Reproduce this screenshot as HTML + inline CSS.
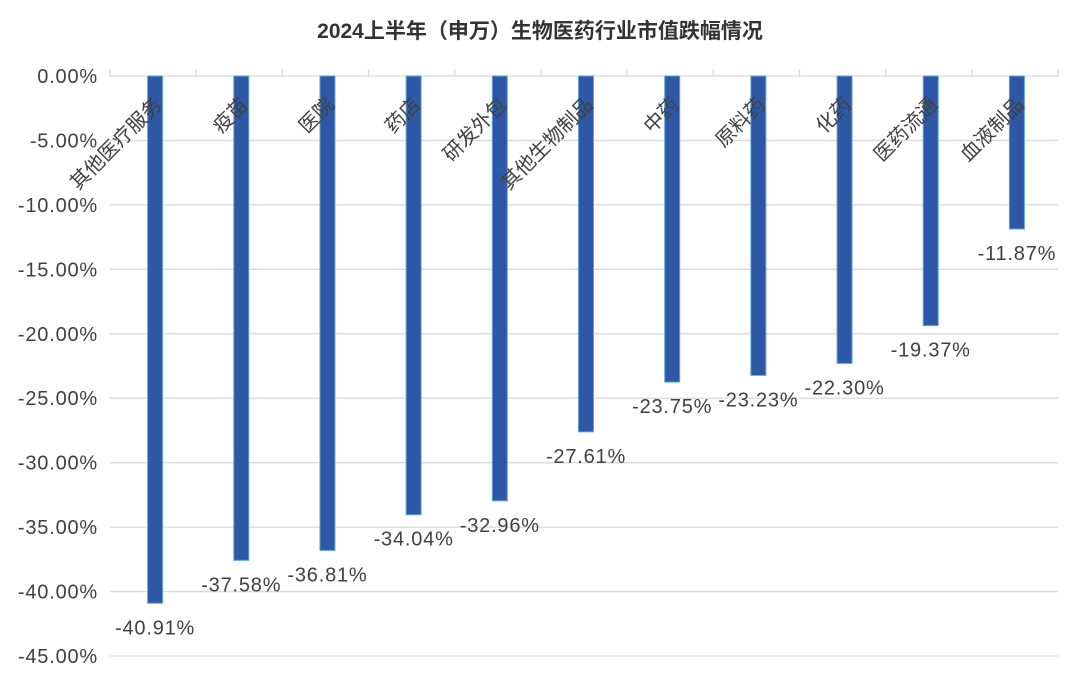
<!DOCTYPE html>
<html><head><meta charset="utf-8">
<style>
html,body{margin:0;padding:0;background:#fff;}
svg{display:block;font-family:"Liberation Sans","Noto Sans CJK SC",sans-serif;}
</style></head>
<body>
<svg id="chart" width="1080" height="681" viewBox="0 0 1080 681" xmlns="http://www.w3.org/2000/svg">
<text x="540" y="38" text-anchor="middle" font-size="21" font-weight="bold" fill="#333">2024上半年（申万）生物医药行业市值跌幅情况</text>
<g id="grid"></g><g id="bars"></g><g id="labels"></g>
</svg>
<script>
const categories=["其他医疗服务","疫苗","医院","药店","研发外包","其他生物制品","中药","原料药","化药","医药流通","血液制品"];
const values=[-40.91,-37.58,-36.81,-34.04,-32.96,-27.61,-23.75,-23.23,-22.30,-19.37,-11.87];
const ticks=[0,-5,-10,-15,-20,-25,-30,-35,-40,-45];
const NS="http://www.w3.org/2000/svg";
const x0=110,x1=1058,y0=76,y1=656;
const bw=(x1-x0)/categories.length;
function y(v){return y0+(0-v)/45*(y1-y0);}
function xc(i){return x0+bw*(i+0.5)+2;}
function mk(t,a,p){const e=document.createElementNS(NS,t);for(const k in a)e.setAttribute(k,a[k]);p.appendChild(e);return e;}
const grid=document.getElementById('grid'),bars=document.getElementById('bars'),labels=document.getElementById('labels');
ticks.forEach(t=>{
  const l=mk('line',{x1:x0,x2:x1,y1:y(t),y2:y(t),stroke:'#d9d9d9','stroke-width':1.3},grid);
  
  
  const tx=mk('text',{x:98,y:y(t)+7,'text-anchor':'end','font-size':20,'letter-spacing':0.8,fill:'#404040'},grid);
  tx.textContent=t.toFixed(2)+'%';
  
  
});
for(let i=0;i<=categories.length;i++){
  const tk=mk('line',{x1:x0+bw*i,x2:x0+bw*i,y1:y0,y2:y0-7,stroke:'#d9d9d9','stroke-width':1.3},grid);
  
  
}
categories.forEach((c,i)=>{
  const cx=xc(i),v=values[i];
  const r=mk('rect',{x:cx-7.5,y:y0,width:15,height:y(v)-y0,fill:'#2e58a6',stroke:'#5fa8d3','stroke-width':1},bars);
  
  
  const vl=mk('text',{x:cx,y:y(v)+31,'text-anchor':'middle','font-size':20,'letter-spacing':0.8,fill:'#404040'},labels);
  vl.textContent=v.toFixed(2)+'%';
  
  
  const cl=mk('text',{x:0,y:0,'text-anchor':'end','font-size':20,fill:'#404040',transform:'translate('+(cx+8)+','+(y0+30)+') rotate(-45)'},labels);
  cl.textContent=c;
  
  
});
</script>
</body></html>
